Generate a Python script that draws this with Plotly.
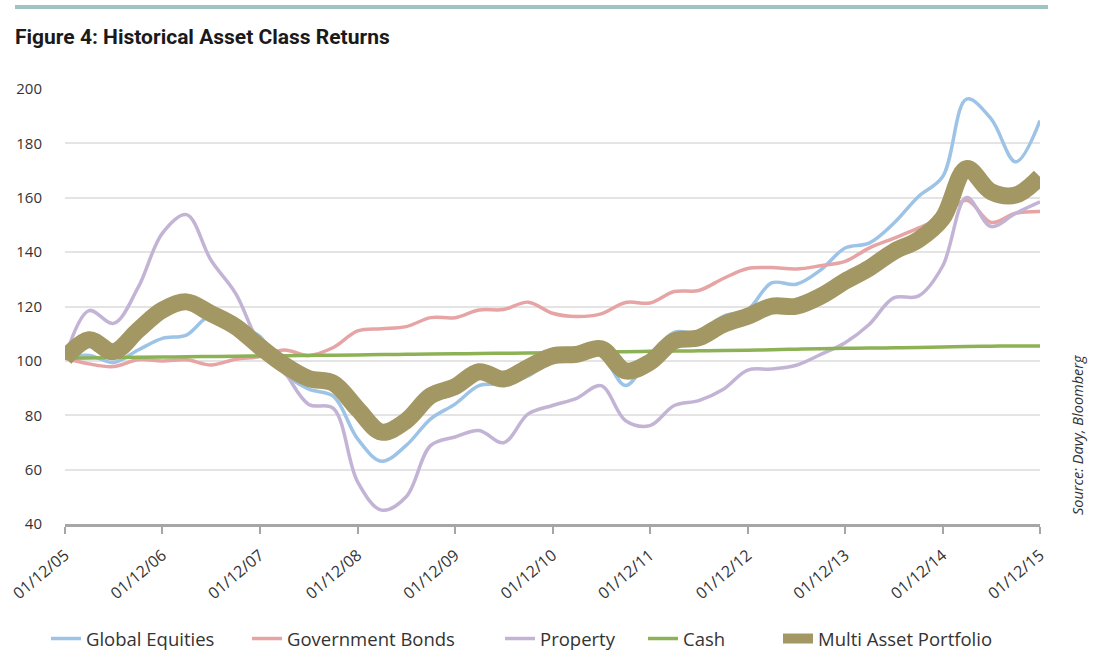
import pandas as pd
import plotly.graph_objects as go

# Quarterly observations, Dec 2005 .. Dec 2015
dates = pd.date_range("2005-12-01", periods=41, freq="3MS")

tick_dates = ["2005-12-01", "2006-12-01", "2007-12-01", "2008-12-01", "2009-12-01",
              "2010-12-01", "2011-12-01", "2012-12-01", "2013-12-01", "2014-12-01",
              "2015-12-01"]
tick_labels = ["01/12/05", "01/12/06", "01/12/07", "01/12/08", "01/12/09", "01/12/10",
               "01/12/11", "01/12/12", "01/12/13", "01/12/14", "01/12/15"]

global_equities = [101, 102, 99.4, 104, 108.3, 109.5, 116.8, 113, 109, 95.5,
                   89.6, 87, 71.3, 63.1, 68.9, 78.7, 84.1, 90.9, 91.5, 94.5,
                   100.5, 102, 102, 90.9, 102, 110.5, 110.3, 116.4, 118.8, 128.7,
                   128.2, 133.5, 141.5, 143.3, 150.6, 160.4, 167.7, 196.3, 189, 173.2,
                   188.4]
government_bonds = [101, 98.9, 97.9, 100.4, 100, 100.4, 98.5, 100.6, 101.6, 104,
                    102, 104.9, 111, 111.8, 112.6, 115.9, 115.9, 118.7, 118.9, 121.6,
                    117.5, 116.3, 117.3, 121.5, 121.3, 125.5, 125.9, 130.3, 134, 134.3,
                    133.8, 135, 136.6, 141.5, 145.1, 148.8, 153, 159.1, 150.9, 154.3,
                    154.9]
property_ = [101, 118.5, 113.8, 127, 147, 153.8, 137, 124.8, 106, 96,
             84, 82.5, 55.5, 45.1, 50, 68.9, 72, 74.4, 69.9, 80.5,
             83.6, 86.2, 90.9, 78, 76.2, 83.6, 85.4, 89.6, 96.6, 97,
             98.4, 102.4, 106.7, 113.4, 123.2, 123.8, 134.8, 160.1, 149.4, 154.3,
             158.5]
cash = [101.0, 101.1, 101.2, 101.3, 101.4, 101.5, 101.6, 101.7, 101.8, 101.9,
        102.0, 102.1, 102.2, 102.3, 102.4, 102.5, 102.6, 102.7, 102.8, 102.9,
        103.0, 103.1, 103.3, 103.4, 103.5, 103.6, 103.7, 103.8, 103.9, 104.1,
        104.3, 104.5, 104.6, 104.7, 104.8, 104.9, 105.1, 105.3, 105.4, 105.5,
        105.5]
multi_asset = [101, 107.8, 103.4, 111.3, 118.7, 121.7, 117.4, 112.6, 105.2, 98.5,
               93.5, 91.8, 82.3, 73.8, 78, 87.2, 90.5, 96, 93.3, 97.6,
               101.8, 102.4, 104.5, 96.3, 99.5, 107.3, 108.5, 113.4, 116.4, 120.1,
               120.1, 123.8, 129.3, 134.1, 140.2, 144.5, 152.4, 170.7, 162.2, 161,
               167.7]

series = [
    ("Global Equities", global_equities, "#9dc3e6", 3.5, "legend"),
    ("Government Bonds", government_bonds, "#e6a4a4", 3.5, "legend2"),
    ("Property", property_, "#c3b4d6", 3.5, "legend3"),
    ("Cash", cash, "#8db255", 3.5, "legend4"),
    ("Multi Asset Portfolio", multi_asset, "#a39863", 17, "legend5"),
]

fig = go.Figure()
for name, vals, color, width, leg in series:
    fig.add_trace(go.Scatter(
        x=dates, y=vals, name=name, mode="lines",
        line=dict(color=color, width=width, shape="spline", smoothing=1.0),
        legend=leg,
    ))

W, H = 1093, 650
L, R, T, B = 65, 1040, 89, 524
FONT = "Open Sans, Noto Sans, sans-serif"

legend_text_x = [86, 287, 540, 683, 818]
legend_common = dict(orientation="h", xref="container", yref="container",
                     xanchor="left", yanchor="middle", y=1 - 639 / H,
                     font=dict(family=FONT, size=18.5, color="#333333"),
                     bgcolor="rgba(0,0,0,0)", itemwidth=30)

fig.update_layout(
    width=W, height=H,
    margin=dict(l=L, r=W - R, t=T, b=H - B, autoexpand=False),
    paper_bgcolor="white", plot_bgcolor="white",
    font=dict(family=FONT, color="#333333"),
    title=dict(text="<b>Figure 4: Historical Asset Class Returns</b>",
               x=15 / W, xanchor="left", y=1 - 37 / H, yanchor="middle",
               font=dict(family="Roboto, sans-serif", size=21, color="#1a1a1a")),
    showlegend=True,
    legend=dict(legend_common, x=(legend_text_x[0] - 40) / W),
    legend2=dict(legend_common, x=(legend_text_x[1] - 40) / W),
    legend3=dict(legend_common, x=(legend_text_x[2] - 40) / W),
    legend4=dict(legend_common, x=(legend_text_x[3] - 40) / W),
    legend5=dict(legend_common, x=(legend_text_x[4] - 40) / W),
    xaxis=dict(
        type="date", range=[dates[0], dates[-1]],
        tickvals=tick_dates, ticktext=tick_labels, tickangle=-40,
        showgrid=False, zeroline=False,
        showline=True, linecolor="#a6a6a6", linewidth=2.5,
        ticks="outside", ticklen=7, tickwidth=2, tickcolor="#a6a6a6",
        ticklabelstandoff=6,
        tickfont=dict(family=FONT, size=16, color="#333333"),
    ),
    yaxis=dict(
        range=[40, 200], tickvals=[40, 60, 80, 100, 120, 140, 160, 180, 200],
        showgrid=True, gridcolor="#e4e4e4", gridwidth=2,
        zeroline=False, showline=False,
        ticks="outside", ticklen=19, tickcolor="rgba(0,0,0,0)",
        tickfont=dict(family=FONT, size=15, color="#333333"),
    ),
    shapes=[dict(type="line", xref="paper", yref="paper",
                 x0=(15 - L) / (R - L), x1=(1048 - L) / (R - L),
                 y0=(B - 7) / (B - T), y1=(B - 7) / (B - T),
                 line=dict(color="#9fc4c0", width=4))],
    annotations=[dict(text="<i>Source: Davy, Bloomberg</i>", textangle=-90,
                      xref="paper", yref="paper",
                      x=(1077 - L) / (R - L), y=(B - 435) / (B - T),
                      xanchor="center", yanchor="middle", showarrow=False,
                      font=dict(family=FONT, size=14.5, color="#333333"))],
)

fig.write_html("out.html", config={"displayModeBar": False},
               post_script="document.body.style.margin='0';")
